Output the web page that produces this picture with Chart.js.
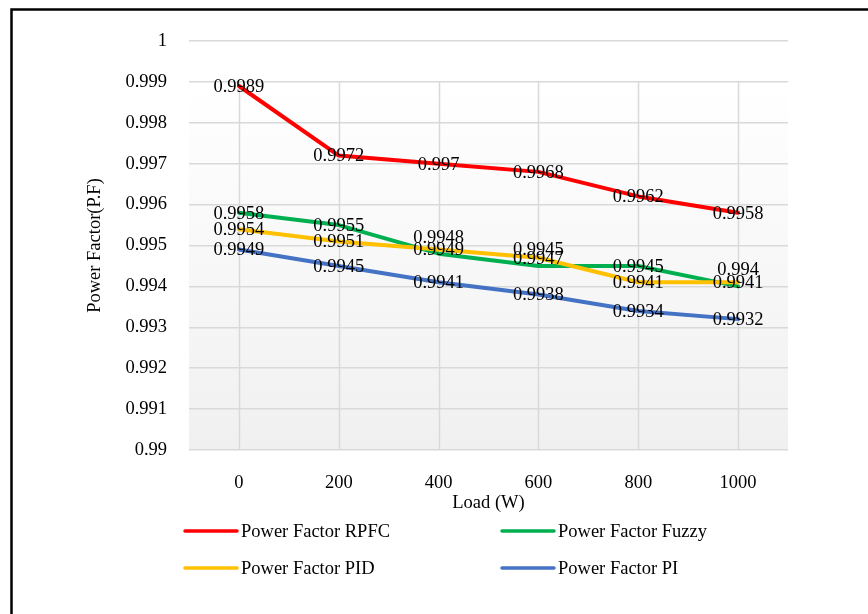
<!DOCTYPE html>
<html>
<head>
<meta charset="utf-8">
<script src="https://cdn.jsdelivr.net/npm/chart.js@4"></script>
<style>
  html, body { margin: 0; padding: 0; background: #ffffff; overflow: hidden; }
  canvas { display: block; }
</style>
</head>
<body>
<canvas id="pf" width="868" height="614"></canvas>
<script>
// Load steps on the x axis (W)
const loads = ['0', '200', '400', '600', '800', '1000'];

// Power factor per controller
const pfRPFC  = [0.9989, 0.9972, 0.997, 0.9968, 0.9962, 0.9958];
const pfFuzzy = [0.9958, 0.9955, 0.9948, 0.9945, 0.9945, 0.994];
const pfPID   = [0.9954, 0.9951, 0.9949, 0.9947, 0.9941, 0.9941];
const pfPI    = [0.9949, 0.9945, 0.9941, 0.9938, 0.9934, 0.9932];

// Y axis ticks
const yTickValues = [0.99, 0.991, 0.992, 0.993, 0.994, 0.995, 0.996, 0.997, 0.998, 0.999, 1];

const seriesNames = ['Power Factor RPFC', 'Power Factor Fuzzy', 'Power Factor PID', 'Power Factor PI'];

const FONT = '"Liberation Serif", "Times New Roman", serif';
const FS = 18.5;
const GRID = '#d9d9d9';

// value-label nudges (px, vertical) so crowded labels stay readable
const labelNudge = { 1: { 2: -17, 3: -17, 5: -17 } };

const frameAndBackground = {
  id: 'frameAndBackground',
  beforeDraw(chart) {
    const { ctx, chartArea: a, scales } = chart;
    ctx.save();
    ctx.fillStyle = '#ffffff';
    ctx.fillRect(0, 0, chart.width, chart.height);
    // plot fill from the 0.999 line downwards
    const yTop = scales.y.getPixelForValue(0.999);
    const g = ctx.createLinearGradient(0, yTop, 0, a.bottom);
    g.addColorStop(0, '#ffffff');
    g.addColorStop(1, '#f0f0f0');
    ctx.fillStyle = g;
    ctx.fillRect(a.left, yTop, a.right - a.left, a.bottom - yTop);
    // outer frame
    ctx.strokeStyle = '#000000';
    ctx.lineWidth = 2.5;
    ctx.beginPath();
    ctx.moveTo(11.5, chart.height + 2);
    ctx.lineTo(11.5, 9.5);
    ctx.lineTo(chart.width + 2, 9.5);
    ctx.stroke();
    ctx.restore();
  },
  beforeDatasetsDraw(chart) {
    const { ctx, chartArea: a, scales } = chart;
    const yTop = scales.y.getPixelForValue(0.999);
    ctx.save();
    ctx.strokeStyle = GRID;
    ctx.lineWidth = 1.5;
    loads.forEach((_, i) => {
      const x = Math.round(scales.x.getPixelForValue(i)) + 0.5;
      ctx.beginPath();
      ctx.moveTo(x, yTop);
      ctx.lineTo(x, a.bottom);
      ctx.stroke();
    });
    ctx.restore();
  }
};

const valueLabels = {
  id: 'valueLabels',
  afterDatasetsDraw(chart) {
    const { ctx } = chart;
    ctx.save();
    ctx.font = FS + 'px ' + FONT;
    ctx.fillStyle = '#000000';
    ctx.textAlign = 'center';
    ctx.textBaseline = 'middle';
    chart.data.datasets.forEach((ds, di) => {
      const meta = chart.getDatasetMeta(di);
      meta.data.forEach((pt, i) => {
        const dy = (labelNudge[di] && labelNudge[di][i]) || 0;
        ctx.fillText(String(ds.data[i]), pt.x, pt.y + dy + 1);
      });
    });
    ctx.restore();
  }
};

const bottomLegend = {
  id: 'bottomLegend',
  afterDraw(chart) {
    const { ctx, chartArea: a } = chart;
    const cols = [a.left - 4, a.left + 313];
    const rows = [a.bottom + 81, a.bottom + 118];
    ctx.save();
    ctx.font = FS + 'px ' + FONT;
    ctx.textAlign = 'left';
    ctx.textBaseline = 'middle';
    chart.data.datasets.forEach((ds, i) => {
      const x = cols[i % 2];
      const y = rows[Math.floor(i / 2)];
      ctx.strokeStyle = ds.borderColor;
      ctx.lineWidth = 3.5;
      ctx.lineCap = 'round';
      ctx.beginPath();
      ctx.moveTo(x, y);
      ctx.lineTo(x + 52, y);
      ctx.stroke();
      ctx.fillStyle = '#000000';
      ctx.fillText(ds.label, x + 56, y + 1);
    });
    ctx.restore();
  }
};

const colors = ['#ff0000', '#00b050', '#ffc000', '#4472c4'];
const values = [pfRPFC, pfFuzzy, pfPID, pfPI];

new Chart(document.getElementById('pf'), {
  type: 'line',
  data: {
    labels: loads,
    datasets: values.map((v, i) => ({
      label: seriesNames[i],
      data: v,
      borderColor: colors[i],
      backgroundColor: colors[i],
      borderWidth: 4,
      borderCapStyle: 'round',
      borderJoinStyle: 'round',
      pointRadius: 0,
      tension: 0,
      order: values.length - i
    }))
  },
  options: {
    responsive: false,
    animation: false,
    events: [],
    layout: { padding: { left: 84, top: 41, right: 80, bottom: 100 } },
    plugins: { legend: { display: false }, tooltip: { enabled: false } },
    scales: {
      x: {
        offset: true,
        grid: { display: false },
        border: { display: false },
        ticks: { color: '#000000', font: { family: FONT, size: FS }, padding: 14, maxRotation: 0 },
        title: { display: true, text: 'Load (W)', color: '#000000', font: { family: FONT, size: FS }, padding: 0 },
        afterFit(s) { s.height = 64; }
      },
      y: {
        min: 0.99,
        max: 1,
        afterBuildTicks(s) { s.ticks = yTickValues.map(v => ({ value: v })); },
        grid: { color: GRID, lineWidth: 1.5, drawTicks: false },
        border: { display: false },
        ticks: {
          color: '#000000',
          font: { family: FONT, size: FS },
          padding: 22,
          callback: v => String(v)
        },
        title: { display: true, text: 'Power Factor(P.F)', color: '#000000', font: { family: FONT, size: FS }, padding: 0 },
        afterFit(s) { s.width = 105; }
      }
    }
  },
  plugins: [frameAndBackground, valueLabels, bottomLegend]
});
</script>
</body>
</html>
